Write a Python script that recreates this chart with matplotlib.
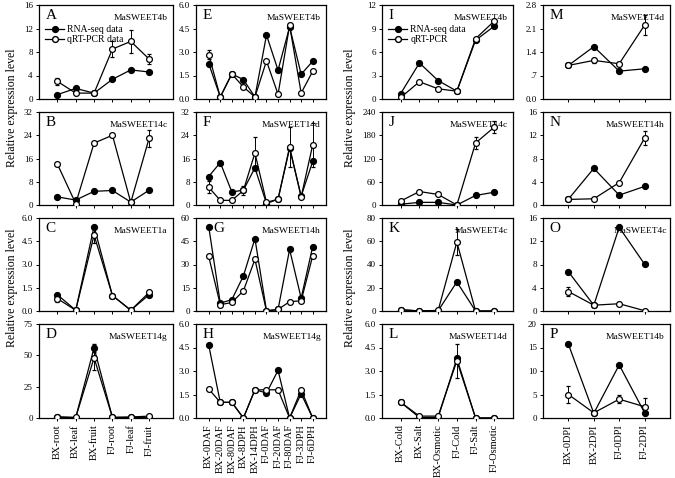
import numpy as np
import matplotlib
matplotlib.use("Agg")
import matplotlib.pyplot as plt
from matplotlib.lines import Line2D

plt.rcParams['font.family'] = ['Liberation Serif', 'DejaVu Serif']

# ---- categories ----
tissues = ["BX-root", "BX-leaf", "BX-fruit", "FJ-root", "FJ-leaf", "FJ-fruit"]
stages = ["BX-0DAF", "BX-20DAF", "BX-80DAF", "BX-8DPH", "BX-14DPH",
          "FJ-0DAF", "FJ-20DAF", "FJ-80DAF", "FJ-3DPH", "FJ-6DPH"]
stress = ["BX-Cold", "BX-Salt", "BX-Osmotic", "FJ-Cold", "FJ-Salt", "FJ-Osmotic"]
infect = ["BX-0DPI", "BX-2DPI", "FJ-0DPI", "FJ-2DPI"]

# ---- column 1 (tissues) ----
a_rna = [0.75, 1.8, 1.0, 3.35, 4.95, 4.6]
a_qrt = [3.0, 1.0, 1.0, 8.5, 9.8, 6.8]
a_err = [0.6, 0, 0, 1.4, 2.0, 0.8]
b_rna = [2.8, 1.7, 4.7, 5.0, 1.0, 5.1]
b_qrt = [14.1, 0.5, 21.3, 24.0, 0.9, 23.0]
b_err = [0, 0, 0, 0, 0, 2.9]
c_rna = [1.05, 0.05, 5.45, 1.0, 0.05, 1.05]
c_qrt = [0.8, 0.05, 4.9, 1.0, 0.05, 1.2]
c_err = [0.25, 0, 0.5, 0, 0, 0.1]
d_rna = [0.5, 0.3, 56.0, 0.5, 0.5, 0.2]
d_rna_err = [0, 0, 3.0, 0, 0, 0]
d_qrt = [1.0, 0.5, 48.0, 0.5, 0.8, 1.5]
d_err = [0, 0, 10.0, 0, 0, 0.3]

# ---- column 2 (fruit development) ----
e_rna = [2.26, 0.13, 1.6, 1.24, 0.13, 4.08, 1.84, 4.6, 1.58, 2.41]
e_qrt = [2.84, 0.13, 1.6, 0.77, 0.13, 2.43, 0.3, 4.7, 0.38, 1.77]
e_err = [0.3, 0, 0, 0, 0, 0, 0, 0.1, 0, 0]
f_rna = [9.8, 14.6, 4.5, 5.1, 12.8, 0.5, 2.0, 19.5, 3.05, 15.0]
f_qrt = [6.1, 1.6, 1.6, 5.0, 17.9, 0.9, 2.0, 20.0, 2.8, 20.7]
f_err = [2.0, 0, 0, 1.5, 5.5, 0, 0, 6.8, 0, 7.5]
g_rna = [54.5, 5.1, 7.3, 22.6, 46.7, 0.2, 1.0, 39.7, 8.3, 41.6]
g_qrt = [35.2, 4.05, 5.5, 13.0, 33.3, 0.0, 1.0, 6.0, 6.6, 35.6]
g_err = [0, 0, 0, 0, 0, 0, 0, 0, 0, 0]
h_rna = [4.65, 1.0, 1.0, 0.0, 1.8, 1.6, 3.04, 0.0, 1.54, 0.0]
h_qrt = [1.85, 1.0, 1.0, 0.0, 1.8, 1.8, 1.8, 0.0, 1.8, 0.0]
h_err = [0, 0, 0, 0, 0, 0, 0, 0, 0, 0]

# ---- column 3 (abiotic stress) ----
i_rna = [0.7, 4.6, 2.35, 1.0, 7.5, 9.3]
i_qrt = [0.2, 2.2, 1.3, 1.0, 7.7, 9.95]
i_err = [0, 0, 0, 0, 0, 0]
j_rna = [2.0, 6.8, 6.8, 0.0, 24.6, 33.0]
j_qrt = [10.2, 34.8, 27.2, 0.0, 160.0, 201.0]
j_err = [0, 0, 0, 0, 15.0, 16.0]
k_rna = [1.0, 0.05, 0.2, 25.0, 0.0, 0.0]
k_qrt = [1.1, 0.1, 0.5, 59.3, 0.0, 0.0]
k_err = [0, 0, 0, 11.0, 0, 0]
l_rna = [1.0, 0.03, 0.03, 3.8, 0.0, 0.0]
l_qrt = [1.0, 0.12, 0.12, 3.65, 0.0, 0.0]
l_err = [0, 0, 0, 1.1, 0, 0]

# ---- column 4 (infection) ----
m_rna = [1.0, 1.56, 0.83, 0.9]
m_qrt = [1.0, 1.15, 1.05, 2.2]
m_err = [0, 0.08, 0.05, 0.3]
n_rna = [1.0, 6.3, 1.7, 3.2]
n_qrt = [0.96, 1.07, 3.85, 11.5]
n_err = [0, 0, 0, 1.2]
o_rna = [6.75, 1.0, 14.4, 8.05]
o_qrt = [3.35, 1.0, 1.25, 0.05]
o_err = [0.8, 0, 0, 0]
p_rna = [15.7, 1.0, 11.3, 1.1]
p_qrt = [5.0, 1.1, 4.0, 2.4]
p_err = [1.9, 0, 0.8, 1.8]

panels = [
    # letter, gene, col, row, rna, rna_err, qrt, qrt_err, ymax, ytick labels
    ("A", "MaSWEET4b", 0, 0, a_rna, None, a_qrt, a_err, 16, ["0", "4", "8", "12", "16"]),
    ("B", "MaSWEET14c", 0, 1, b_rna, None, b_qrt, b_err, 32, ["0", "8", "16", "24", "32"]),
    ("C", "MaSWEET1a", 0, 2, c_rna, None, c_qrt, c_err, 6, ["0.0", "1.5", "3.0", "4.5", "6.0"]),
    ("D", "MaSWEET14g", 0, 3, d_rna, d_rna_err, d_qrt, d_err, 75, ["0", "25", "50", "75"]),
    ("E", "MaSWEET4b", 1, 0, e_rna, None, e_qrt, e_err, 6, ["0.0", "1.5", "3.0", "4.5", "6.0"]),
    ("F", "MaSWEET14d", 1, 1, f_rna, None, f_qrt, f_err, 32, ["0", "8", "16", "24", "32"]),
    ("G", "MaSWEET14h", 1, 2, g_rna, None, g_qrt, g_err, 60, ["0", "15", "30", "45", "60"]),
    ("H", "MaSWEET14g", 1, 3, h_rna, None, h_qrt, h_err, 6, ["0.0", "1.5", "3.0", "4.5", "6.0"]),
    ("I", "MaSWEET4b", 2, 0, i_rna, None, i_qrt, i_err, 12, ["0", "3", "6", "9", "12"]),
    ("J", "MaSWEET14c", 2, 1, j_rna, None, j_qrt, j_err, 240, ["0", "60", "120", "180", "240"]),
    ("K", "MaSWEET4c", 2, 2, k_rna, None, k_qrt, k_err, 80, ["0", "20", "40", "60", "80"]),
    ("L", "MaSWEET14d", 2, 3, l_rna, None, l_qrt, l_err, 6, ["0.0", "1.5", "3.0", "4.5", "6.0"]),
    ("M", "MaSWEET4d", 3, 0, m_rna, None, m_qrt, m_err, 2.8, ["0.0", ".7", "1.4", "2.1", "2.8"]),
    ("N", "MaSWEET14h", 3, 1, n_rna, None, n_qrt, n_err, 16, ["0", "4", "8", "12", "16"]),
    ("O", "MaSWEET4c", 3, 2, o_rna, None, o_qrt, o_err, 16, ["0", "4", "8", "12", "16"]),
    ("P", "MaSWEET14b", 3, 3, p_rna, None, p_qrt, p_err, 20, ["0", "5", "10", "15", "20"]),
]

col_cats = [tissues, stages, stress, infect]
col_x = [(39, 173), (196, 326), (382, 513), (543, 670)]
col_xlim = [(0, 7.3), (-0.1, 11.15), (0, 7), (0, 5)]
row_y = [(5, 99), (112, 205), (218, 311), (324, 418)]

W, H = 675, 478
fig = plt.figure(figsize=(6.75, 4.78), dpi=100)

for letter, gene, c, r, rna, rna_err, qrt, qrt_err, ymax, ylabels in panels:
    x0, x1 = col_x[c]
    y0, y1 = row_y[r]
    ax = fig.add_axes([x0 / W, 1 - y1 / H, (x1 - x0) / W, (y1 - y0) / H])
    cats = col_cats[c]
    xs = np.arange(1, len(cats) + 1)
    ax.errorbar(xs, rna, yerr=rna_err, color="black", marker="o", ms=4.2,
                mfc="black", mec="black", lw=0.9, elinewidth=0.7, capsize=1.5,
                zorder=3)
    ax.errorbar(xs, qrt, yerr=qrt_err, color="black", marker="o", ms=4.2,
                mfc="white", mec="black", mew=0.9, lw=0.9, elinewidth=0.7,
                capsize=1.5, zorder=4)
    ax.set_xlim(*col_xlim[c])
    ax.set_ylim(0, ymax)
    ax.set_yticks(np.linspace(0, ymax, len(ylabels)))
    ax.set_yticklabels(ylabels)
    ax.set_xticks(xs)
    if r == 3:
        ax.set_xticklabels(cats, rotation=90)
    else:
        ax.set_xticklabels([])
    ax.tick_params(direction="out", length=2.5, width=0.7, labelsize=6.5, pad=2)
    ax.tick_params(axis="x", labelsize=7.5)
    for s in ax.spines.values():
        s.set_linewidth(0.9)
    lx = 0.13 if letter == "G" else 0.05
    ax.text(lx, 0.96, letter, transform=ax.transAxes, fontsize=11, va="top", ha="left")
    gx = 0.98 if letter == "O" else 0.96
    ax.text(gx, 0.9, gene, transform=ax.transAxes, fontsize=6.8, va="top", ha="right")
    if letter in ("A", "I"):
        h1 = Line2D([], [], color="black", marker="o", ms=4.2, mfc="black", lw=0.9)
        h2 = Line2D([], [], color="black", marker="o", ms=4.2, mfc="white", lw=0.9)
        lab2 = "qRT-PCR data" if letter == "A" else "qRT-PCR"
        ax.legend([h1, h2], ["RNA-seq data", lab2], loc="upper left",
                  bbox_to_anchor=(0.0, 0.85), frameon=False, fontsize=7,
                  handlelength=2.0, handletextpad=0.3, numpoints=1,
                  labelspacing=0.15, borderaxespad=0.2)

for xl in (12, 350):
    for yc in (108, 288):
        fig.text(xl / W, 1 - yc / H, "Relative expression level", rotation=90,
                 fontsize=8.5, ha="center", va="center")

fig.savefig("out.png", dpi=100)
